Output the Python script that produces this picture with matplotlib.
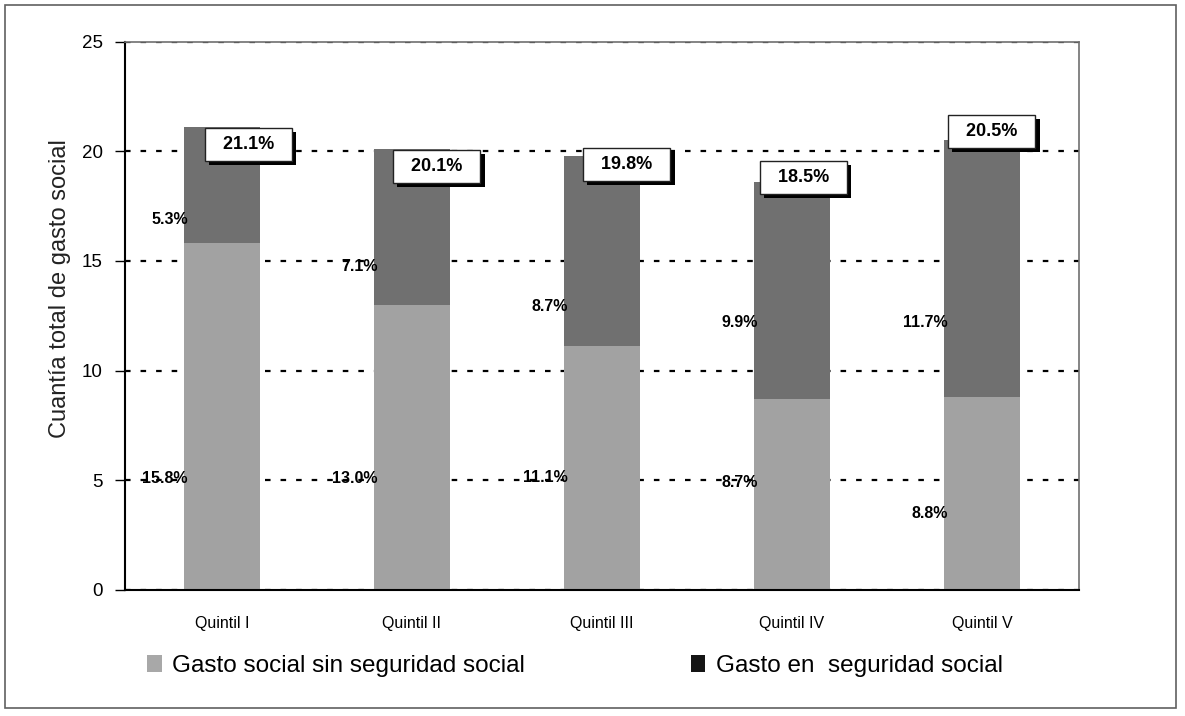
import numpy as np
import matplotlib
matplotlib.use('Agg')
import matplotlib.pyplot as plt
from matplotlib.patches import Patch, Rectangle
import matplotlib.patheffects as pe

plt.rcParams['font.family'] = ['Liberation Sans', 'DejaVu Sans']

# Datos: gasto social por quintil
quintiles = ['Quintil I', 'Quintil II', 'Quintil III', 'Quintil IV', 'Quintil V']
sin_ss = [15.8, 13.0, 11.1, 8.7, 8.8]      # gasto social sin seguridad social
con_ss = [5.3, 7.1, 8.7, 9.9, 11.7]        # gasto en seguridad social
totales = [21.1, 20.1, 19.8, 18.5, 20.5]

# posiciones de las etiquetas (layout)
y_lab_sin = [5.1, 5.1, 5.15, 4.9, 3.5]
y_lab_con = [16.9, 14.75, 12.9, 12.2, 12.2]
box_dx = [0.14, 0.13, 0.13, 0.06, 0.05]
box_dy = [-0.8, -0.8, -0.4, 0.2, 0.4]

light = '#a2a2a2'
dark = '#707070'

fig = plt.figure(figsize=(11.85, 7.16), dpi=100)
ax = fig.add_axes([0.1055, 0.176, 0.805, 0.766])

x = np.arange(len(quintiles))
w = 0.4
ax.bar(x, sin_ss, w, color=light, zorder=2)
ax.bar(x, con_ss, w, bottom=sin_ss, color=dark, zorder=2)

ax.set_xlim(-0.51, 4.51)
ax.set_ylim(0, 25)
ax.set_yticks([0, 5, 10, 15, 20, 25])
ax.yaxis.grid(True, linestyle=(0, (2.5, 4.5)), color='black', lw=1.6, zorder=1)
ax.set_axisbelow(True)

ax.set_xticks(x)
ax.set_xticklabels(quintiles, fontsize=11.5)
ax.tick_params(axis='x', length=0, pad=19)
ax.tick_params(axis='y', length=7, width=1, labelsize=13.5, pad=9)

for s in ['top', 'right']:
    ax.spines[s].set_color('#707070')
    ax.spines[s].set_linewidth(1.2)
for s in ['left', 'bottom']:
    ax.spines[s].set_color('black')
    ax.spines[s].set_linewidth(1.5)

ax.set_ylabel('Cuantía total de gasto social', fontsize=17, color='#222222')
ax.yaxis.set_label_coords(-0.057, 0.55)

# etiquetas de cada segmento
for i in range(len(quintiles)):
    xl = x[i] - w / 2 + 0.02
    ax.text(xl, y_lab_sin[i], f'{sin_ss[i]:.1f}%', ha='right', va='center',
            fontsize=11.5, fontweight='bold', zorder=4)
    ax.text(xl, y_lab_con[i], f'{con_ss[i]:.1f}%', ha='right', va='center',
            fontsize=11.5, fontweight='bold', zorder=4)

# recuadros con el total
for i in range(len(quintiles)):
    top = sin_ss[i] + con_ss[i]
    t = ax.text(x[i] + box_dx[i], top + box_dy[i], f'  {totales[i]:.1f}%  ',
                ha='center', va='center', fontsize=13, fontweight='bold', zorder=5,
                bbox=dict(boxstyle='square,pad=0.45', fc='white', ec='#222222', lw=1))
    t.get_bbox_patch().set_path_effects(
        [pe.withSimplePatchShadow(offset=(3, -3), shadow_rgbFace='black', alpha=1)])

# leyenda
h1 = [Patch(facecolor='#a8a8a8', edgecolor='none')]
h2 = [Patch(facecolor='#151515', edgecolor='none')]
lg1 = fig.legend(h1, ['Gasto social sin seguridad social'], loc='center left',
                 bbox_to_anchor=(0.124, 0.07), frameon=False, fontsize=17.5,
                 handlelength=0.6, handleheight=0.7, handletextpad=0.45,
                 borderpad=0, borderaxespad=0)
lg2 = fig.legend(h2, ['Gasto en  seguridad social'], loc='center left',
                 bbox_to_anchor=(0.583, 0.07), frameon=False, fontsize=17.5,
                 handlelength=0.6, handleheight=0.7, handletextpad=0.45,
                 borderpad=0, borderaxespad=0)

# marco exterior
fig.patches.append(Rectangle((5 / 1185, 8 / 716), 1171 / 1185, 703 / 716,
                             transform=fig.transFigure, fill=False,
                             ec='#606060', lw=1.2))

fig.savefig('out.png', dpi=100, facecolor='white')
